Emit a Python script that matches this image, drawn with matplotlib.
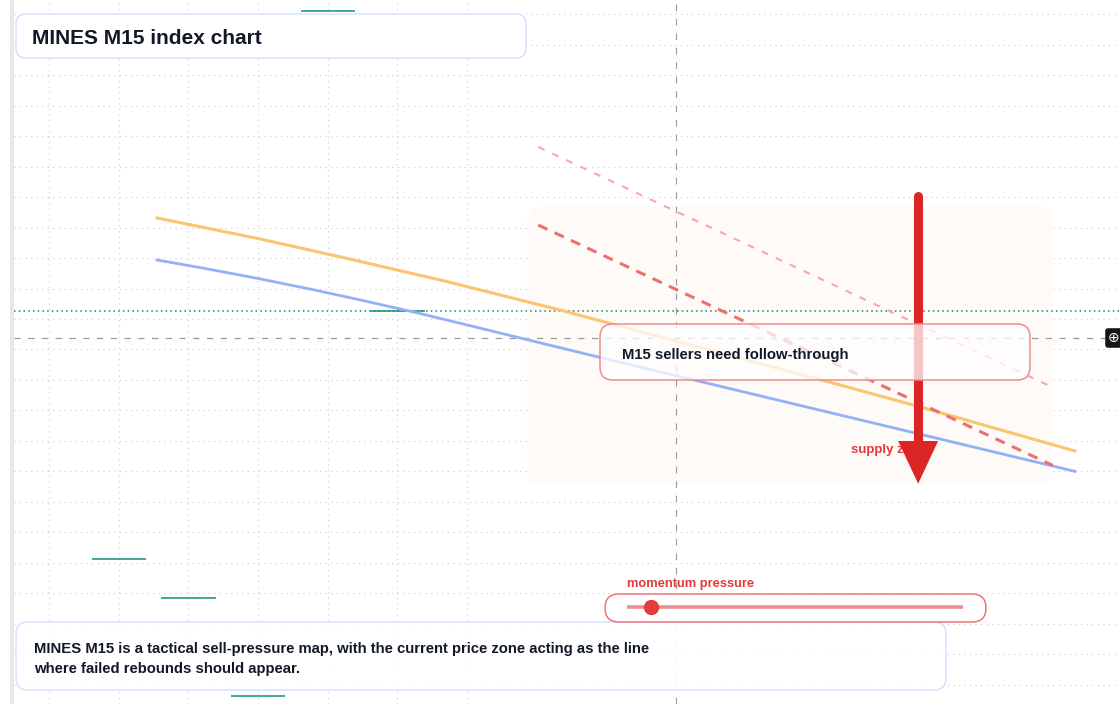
import matplotlib
matplotlib.use('Agg')
import matplotlib.pyplot as plt
import numpy as np
from matplotlib.patches import FancyBboxPatch, Rectangle, FancyArrow
from matplotlib.transforms import IdentityTransform

W, H = 1120, 704

# flat M15 candles (bar index, close)
bars = [1, 2, 3, 4, 5]
closes = [1135.3, 1132.1, 1124.1, 1180.25, 1155.65]

# the two moving averages
upper_x = [1.55, 3.0, 4.22, 5.68, 7.33, 9.34, 11.35, 12.45, 14.72]
upper_avg = [1163.28, 1161.6, 1160.04, 1158.11, 1155.74, 1152.66, 1149.59, 1147.87, 1144.18]
lower_x = [1.55, 2.25, 3.0, 3.75, 4.5, 5.25, 6.0, 7.0, 8.0, 14.72]
lower_avg = [1159.84, 1159.13, 1158.32, 1157.45, 1156.52, 1155.55, 1154.51, 1153.11, 1151.72, 1142.51]

# supply trend lines
trend_x = [7.02, 14.4]
supply_upper = [1169.1, 1149.4]
supply_lower = [1162.7, 1143.0]

zone_x = (6.86, 14.39)
zone_y = (1141.4, 1164.2)
arrow_x = 12.47
arrow_from, arrow_head, arrow_to = 1165.1, 1145.0, 1141.5
cross_x, cross_y = 9, 1153.45
momentum = 0.07

grid_bars = range(7)
price_levels = np.arange(1125, 1180.1, 2.5)

plt.rcParams['font.family'] = ['Liberation Sans', 'DejaVu Sans']
fig = plt.figure(figsize=(W / 100, H / 100), dpi=100)
ax = fig.add_axes([14 / W, 0, 1 - 14 / W, 1])
ax.set_xlim(-0.502, 15.366)
ax.set_ylim(1123.44, 1181.15)
ax.set_xticks([])
ax.set_yticks([])
for s in ax.spines.values():
    s.set_visible(False)

fig.patches.append(Rectangle((10, 0), 4, H, transform=IdentityTransform(),
                             fc='#e8e8e8', ec='none'))

grid_kw = dict(color='#cdcdcd', lw=0.8, ls=(0, (1, 4)), zorder=0.5)
for b in grid_bars:
    ax.axvline(b, **grid_kw)
for p in price_levels:
    ax.axhline(p, **grid_kw)

# supply zone (rounded, drawn in display space)
x0, y0 = ax.transData.transform((zone_x[0], zone_y[0]))
x1, y1 = ax.transData.transform((zone_x[1], zone_y[1]))
ax.add_patch(FancyBboxPatch((x0, y0), x1 - x0, y1 - y0,
                            boxstyle='round,pad=0,rounding_size=14',
                            transform=IdentityTransform(),
                            fc='#fdfaf7', ec='none', zorder=1))

# crosshair + last price
ax.axvline(cross_x, color='#9a9a9a', lw=0.8, ls=(0, (6, 7)), zorder=1.5)
ax.axhline(cross_y, color='#9a9a9a', lw=0.9, ls=(0, (5, 6)), zorder=1.5)
ax.axhline(closes[-1], color='#0c8c78', lw=1.1, ls=(0, (1, 2.1)), zorder=1.5)
ax.hlines(closes, np.array(bars) - 0.39, np.array(bars) + 0.39,
          color='#0f917c', lw=1.1, zorder=1.6)

ax.plot(upper_x, upper_avg, color='#fbc46e', lw=2.2, zorder=2)
ax.plot(lower_x, lower_avg, color='#94b1f6', lw=2.0, zorder=2)
ax.plot(trend_x, supply_lower, color='#eb7070', lw=2.2, ls=(0, (3.3, 2.6)), zorder=2)
ax.plot(trend_x, supply_upper, color='#f5aaaa', lw=1.5, ls=(0, (3.3, 4.1)), zorder=2)

ax.text(11.51, 1179.99 - (453 - 14) / 12.2, 'supply zone', color='#e03a3a', fontsize=9.5,
        fontweight='bold', va='baseline', ha='left', zorder=3)

# big sell arrow
ax.plot([arrow_x, arrow_x], [arrow_from, arrow_head], color='#dc2626', lw=6.5,
        solid_capstyle='round', zorder=4)
ax.add_patch(FancyArrow(arrow_x, arrow_head + 0.5, 0, arrow_to - arrow_head - 0.5,
                        width=0.05, head_width=0.574, head_length=3.5,
                        length_includes_head=True, color='#dc2626', lw=0, zorder=4))


def box(x, y, w, h, ec, fc, r, z):
    fig.add_artist(FancyBboxPatch((x, H - y - h), w, h,
                                  boxstyle=f'round,pad=0,rounding_size={r}',
                                  transform=IdentityTransform(),
                                  fc=fc, ec=ec, lw=1.1, zorder=z))


def label(x, y, s, size, color='#111827'):
    fig.text(x / W, 1 - y / H, s, fontsize=size, fontweight='bold', color=color,
             va='baseline', ha='left', zorder=6)


box(600, 324, 430, 56, '#ef8c8c', (1, 1, 1, 0.74), 13, 5)
label(622, 359, 'M15 sellers need follow-through', 10.7)

box(16, 14, 510, 44, '#d6e3fa', 'white', 10, 5)
label(32, 43.5, 'MINES M15 index chart', 15)

box(16, 622, 930, 68, '#d6e3fa', (1, 1, 1, 0.92), 12, 5)
label(34, 653.5, 'MINES M15 is a tactical sell-pressure map, with the current price zone acting as the line', 10.7)
label(34, 673.5, 'where failed rebounds should appear.', 10.7)

# momentum gauge
label(627, 587, 'momentum pressure', 9.3, '#e03a3a')
box(605, 594, 381, 28, '#ef7575', 'white', 14, 6)
ax2 = fig.add_axes([627 / W, 1 - 617 / H, 336 / W, 20 / H], zorder=7)
ax2.patch.set_alpha(0)
ax2.axis('off')
ax2.set_xlim(0, 1)
ax2.set_ylim(-1, 1)
ax2.plot([0, 1], [0, 0], color='#ee8f8f', lw=2.6, solid_capstyle='butt')
ax2.plot([momentum], [0], 'o', ms=10, color='#e23c3c', clip_on=False)

# crosshair price tag
fig.text(1108 / W, 1 - 338 / H, '\u2295', family=['DejaVu Sans'], fontsize=10,
         color='white', va='center', ha='left', zorder=8,
         bbox=dict(boxstyle='round,pad=0.2', fc='#151515', ec='none'))

fig.savefig('out.png', dpi=100)
